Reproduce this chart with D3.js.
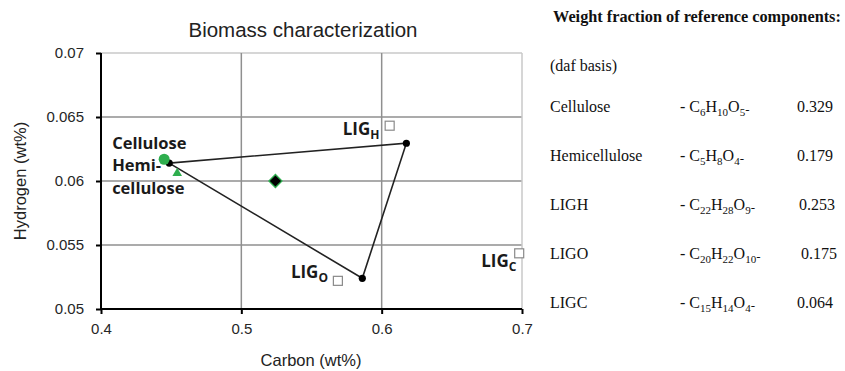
<!DOCTYPE html>
<html><head><meta charset="utf-8">
<script src="https://cdn.jsdelivr.net/npm/d3@7"></script>
<style>body{margin:0;background:#fff}svg{display:block}</style>
</head><body>
<svg id="c" width="845" height="371"></svg>
<script>
// ---- data ----
const xTicks = [0.4, 0.5, 0.6, 0.7];
const yTicks = [0.05, 0.055, 0.06, 0.065, 0.07];
const xTickLabels = ["0.4", "0.5", "0.6", "0.7"];
const yTickLabels = ["0.05", "0.055", "0.06", "0.065", "0.07"];
// triangle of model reference points (closed polygon)
const triCarbon = [0.4486, 0.6176, 0.5862];
const triHydrogen = [0.0614, 0.06295, 0.0524];
// lignin reference components (open squares)
const ligNames = ["H", "O", "C"];
const ligCarbon = [0.6057, 0.5688, 0.698];
const ligHydrogen = [0.06432, 0.0522, 0.05435];
// cellulose, hemicellulose, biomass
const celluloseCH = [0.445, 0.0617];
const hemiCH = [0.4543, 0.0606];
const biomassCH = [0.5243, 0.0600];
// table
const compNames = ["Cellulose", "Hemicellulose", "LIGH", "LIGO", "LIGC"];
const compFormulas = [
  [["C","6"],["H","10"],["O","5"]],
  [["C","5"],["H","8"],["O","4"]],
  [["C","22"],["H","28"],["O","9"]],
  [["C","20"],["H","22"],["O","10"]],
  [["C","15"],["H","14"],["O","4"]]
];
const compFractions = ["0.329", "0.179", "0.253", "0.175", "0.064"];

// ---- chart ----
const svg = d3.select("#c");
const x = d3.scaleLinear().domain([0.4, 0.7]).range([101, 522]);
const y = d3.scaleLinear().domain([0.05, 0.07]).range([309, 53]);
const sans = "Liberation Sans, Arial, sans-serif";
const boldSans = "Open Sans, Liberation Sans, sans-serif";

// grid
svg.append("g").selectAll("line").data(yTicks.slice(1)).join("line")
  .attr("x1", x(0.4)).attr("x2", x(0.7))
  .attr("y1", d => y(d)).attr("y2", d => y(d))
  .attr("stroke", d => d === 0.07 ? "#c8c8c8" : "#8f8f8f").attr("stroke-width", 1.5);
svg.append("g").selectAll("line").data(xTicks.slice(1)).join("line")
  .attr("y1", y(0.05)).attr("y2", y(0.07))
  .attr("x1", d => x(d)).attr("x2", d => x(d))
  .attr("stroke", d => d === 0.7 ? "#c8c8c8" : "#8f8f8f").attr("stroke-width", 1.5);

// axes
const xAxis = svg.append("g").attr("transform", `translate(0,${y(0.05)})`)
  .call(d3.axisBottom(x).tickValues(xTicks).tickFormat((d,i) => xTickLabels[i]).tickSize(5).tickPadding(9));
const yAxis = svg.append("g").attr("transform", `translate(${x(0.4)},0)`)
  .call(d3.axisLeft(y).tickValues(yTicks).tickFormat((d,i) => yTickLabels[i]).tickSize(5).tickPadding(12));
[xAxis, yAxis].forEach(a => {
  a.select(".domain").attr("stroke", "#000").attr("stroke-width", 2);
  a.selectAll(".tick line").attr("stroke", "#000").attr("stroke-width", 2);
  a.selectAll(".tick text").attr("font-family", sans).attr("font-size", 15).attr("fill", "#262626");
});
xAxis.select(".domain").attr("d", `M${x(0.4)},0H${x(0.7)}`);
yAxis.select(".domain").attr("d", `M0,${y(0.05)}V${y(0.07)}`);

// title & axis labels
svg.append("text").attr("x", 303).attr("y", 37).attr("text-anchor", "middle")
  .attr("font-family", sans).attr("font-size", 20.5).attr("fill", "#222").text("Biomass characterization");
svg.append("text").attr("x", 311).attr("y", 366).attr("text-anchor", "middle")
  .attr("font-family", sans).attr("font-size", 16.5).attr("fill", "#222").text("Carbon (wt%)");
svg.append("text").attr("transform", "translate(26,181) rotate(-90)").attr("text-anchor", "middle")
  .attr("font-family", sans).attr("font-size", 16.5).attr("fill", "#222").text("Hydrogen (wt%)");

// open squares
svg.append("g").selectAll("rect").data(ligCarbon).join("rect")
  .attr("x", (d) => x(d) - 4.5).attr("y", (d,i) => y(ligHydrogen[i]) - 4.5)
  .attr("width", 9).attr("height", 9).attr("fill", "#fff").attr("stroke", "#8a8a8a").attr("stroke-width", 1.2);

// triangle
const tri = triCarbon.map((c,i) => [x(c), y(triHydrogen[i])]);
svg.append("path").attr("d", d3.line()(tri) + "Z").attr("fill", "none")
  .attr("stroke", "#222").attr("stroke-width", 1.6);
svg.append("g").selectAll("circle").data(tri).join("circle")
  .attr("cx", d => d[0]).attr("cy", d => d[1]).attr("r", 3.6).attr("fill", "#000");

// cellulose circle
svg.append("circle").attr("cx", x(celluloseCH[0])).attr("cy", y(celluloseCH[1])).attr("r", 5.5).attr("fill", "#2eae4e");
// hemicellulose triangle
svg.append("path").attr("transform", `translate(${x(hemiCH[0])},${y(hemiCH[1])})`)
  .attr("d", d3.symbol(d3.symbolTriangle, 40)()).attr("fill", "#2eae4e");
// biomass diamond
svg.append("path").attr("transform", `translate(${x(biomassCH[0])},${y(biomassCH[1])}) rotate(45)`)
  .attr("d", "M-4.6,-4.6H4.6V4.6H-4.6Z").attr("fill", "#000").attr("stroke", "#2eae4e").attr("stroke-width", 1.3);

// bold labels
const lab = (tx, ty, t) => svg.append("text").attr("x", tx).attr("y", ty)
  .attr("font-family", boldSans).attr("font-weight", "bold")
  .attr("font-size", 16.5).attr("fill", "#1a1a1a").text(t);
lab(x(celluloseCH[0]) - 52, y(celluloseCH[1]) - 10, "Cellulose");
lab(x(celluloseCH[0]) - 52, y(hemiCH[1]) - 2, "Hemi-");
lab(x(celluloseCH[0]) - 52, y(hemiCH[1]) + 21, "cellulose");
const ligOffsets = [[-47, 9], [-47, -3], [-38, 14]];
ligNames.forEach((n, i) => {
  const t = svg.append("text").attr("x", x(ligCarbon[i]) + ligOffsets[i][0]).attr("y", y(ligHydrogen[i]) + ligOffsets[i][1])
    .attr("font-family", boldSans).attr("font-weight", "bold")
    .attr("font-size", 17).attr("fill", "#1a1a1a");
  t.append("tspan").text("LIG");
  t.append("tspan").attr("dy", 4).attr("font-size", 12).text(n);
});

// ---- table ----
const serif = "Liberation Serif, Times New Roman, serif";
svg.append("text").attr("x", 553).attr("y", 22).attr("font-family", serif).attr("font-weight", "bold")
  .attr("font-size", 16.3).attr("fill", "#111").text("Weight fraction of reference components:");
svg.append("text").attr("x", 550).attr("y", 71).attr("font-family", serif)
  .attr("font-size", 16).attr("fill", "#111").text("(daf basis)");
const rowY = d3.scalePoint().domain(compNames).range([112, 308]);
const valX = [797, 797, 799, 801, 797];
compNames.forEach((n, i) => {
  const yy = rowY(n);
  svg.append("text").attr("x", 550).attr("y", yy).attr("font-family", serif).attr("font-size", 16).attr("fill", "#111").text(n);
  const f = svg.append("text").attr("x", 680).attr("y", yy).attr("font-family", serif).attr("font-size", 16).attr("fill", "#111");
  f.append("tspan").text("- ");
  compFormulas[i].forEach(([el, sub], j) => {
    f.append("tspan").attr("dy", j === 0 ? 0 : -4).attr("font-size", 16).text(el);
    f.append("tspan").attr("dy", 4).attr("font-size", 11).text(sub);
  });
  f.append("tspan").attr("dy", -2).attr("font-size", 13).text("-");
  svg.append("text").attr("x", valX[i]).attr("y", yy).attr("font-family", serif).attr("font-size", 16).attr("fill", "#111").text(compFractions[i]);
});
</script>
</body></html>
